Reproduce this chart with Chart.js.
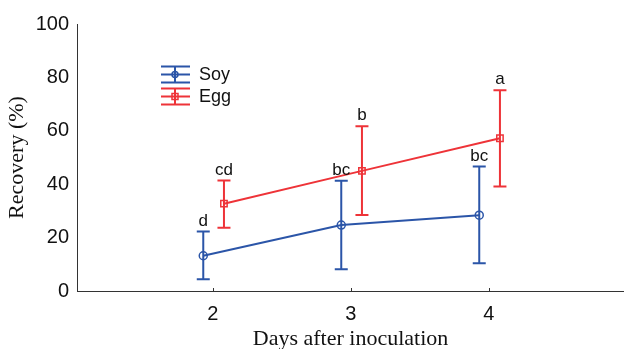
<!DOCTYPE html>
<html>
<head>
<meta charset="utf-8">
<script src="https://cdn.jsdelivr.net/npm/chart.js@4"></script>
<style>
  html, body { margin: 0; padding: 0; background: #fff; overflow: hidden; }
  #wrap { width: 630px; height: 356px; }
</style>
</head>
<body>
<div id="wrap"><canvas id="chart"></canvas></div>
<script>
// Data
const days = [2, 3, 4];
const dayTicks = [2, 3, 4];
const yTicks = [0, 20, 40, 60, 80, 100];

const soyMean = [13.2, 24.7, 28.4];
const soyLow = [4.4, 8.1, 10.4];
const soyHigh = [22.3, 41.3, 46.6];
const soyLetters = ['d', 'bc', 'bc'];

const eggMean = [32.7, 45.0, 57.2];
const eggLow = [23.7, 28.5, 39.1];
const eggHigh = [41.4, 61.7, 75.2];
const eggLetters = ['cd', 'b', 'a'];

const BLUE = '#2b55a8';
const RED = '#ee3338';
const SANS = 'Arial, "Liberation Sans", sans-serif';
const SERIF = '"Times New Roman", "Liberation Serif", serif';

// small horizontal dodge so the two series don't overlap
const soyDodge = -0.07;
const eggDodge = 0.08;

function points(mean, dodge) {
    return days.map((d, i) => ({ x: d + dodge, y: mean[i] }));
}

// error bars + significance letters
const errorBarPlugin = {
    id: 'errorBars',
    beforeDatasetsDraw(chart) {
        const ctx = chart.ctx;
        const yScale = chart.scales.y;
        chart.data.datasets.forEach((ds, di) => {
            const meta = chart.getDatasetMeta(di);
            ctx.save();
            ctx.strokeStyle = ds.borderColor;
            ctx.lineWidth = 2;
            meta.data.forEach((pt, i) => {
                const yLo = yScale.getPixelForValue(ds.low[i]);
                const yHi = yScale.getPixelForValue(ds.high[i]);
                ctx.beginPath();
                ctx.moveTo(pt.x, yLo); ctx.lineTo(pt.x, yHi);
                ctx.moveTo(pt.x - 6.5, yLo); ctx.lineTo(pt.x + 6.5, yLo);
                ctx.moveTo(pt.x - 6.5, yHi); ctx.lineTo(pt.x + 6.5, yHi);
                ctx.stroke();
            });
            ctx.restore();
        });
    },
    afterDatasetsDraw(chart) {
        const ctx = chart.ctx;
        const yScale = chart.scales.y;
        ctx.save();
        ctx.fillStyle = '#111';
        ctx.font = '17px ' + SANS;
        ctx.textAlign = 'center';
        ctx.textBaseline = 'bottom';
        chart.data.datasets.forEach((ds, di) => {
            const meta = chart.getDatasetMeta(di);
            meta.data.forEach((pt, i) => {
                ctx.fillText(ds.letters[i], pt.x, yScale.getPixelForValue(ds.high[i]) - 2);
            });
        });

        // small inward tick marks on the x axis
        const xScale = chart.scales.x;
        ctx.strokeStyle = '#333';
        ctx.lineWidth = 1;
        dayTicks.forEach(v => {
            const px = Math.round(xScale.getPixelForValue(v)) + 0.5;
            ctx.beginPath();
            ctx.moveTo(px, chart.chartArea.bottom);
            ctx.lineTo(px, chart.chartArea.bottom - 3);
            ctx.stroke();
        });

        // legend inside the plot
        const items = [
            { label: 'Soy', color: BLUE, y: 74.5, marker: 'circle' },
            { label: 'Egg', color: RED, y: 96.5, marker: 'rect' }
        ];
        items.forEach(it => {
            ctx.strokeStyle = it.color;
            ctx.lineWidth = 2;
            ctx.beginPath();
            ctx.moveTo(161, it.y); ctx.lineTo(190, it.y);
            ctx.moveTo(161, it.y - 8); ctx.lineTo(190, it.y - 8);
            ctx.moveTo(161, it.y + 8); ctx.lineTo(190, it.y + 8);
            ctx.moveTo(175, it.y - 8); ctx.lineTo(175, it.y + 8);
            ctx.stroke();
            ctx.lineWidth = 1.5;
            ctx.beginPath();
            if (it.marker === 'circle') {
                ctx.arc(175, it.y, 3, 0, Math.PI * 2);
            } else {
                ctx.rect(172, it.y - 3, 6, 6);
            }
            ctx.stroke();
            ctx.fillStyle = '#111';
            ctx.font = '18px ' + SANS;
            ctx.textAlign = 'left';
            ctx.textBaseline = 'middle';
            ctx.fillText(it.label, 199, it.y + 1);
        });
        ctx.restore();
    }
};

new Chart(document.getElementById('chart'), {
    type: 'scatter',
    data: {
        datasets: [
            {
                label: 'Soy',
                data: points(soyMean, soyDodge),
                low: soyLow, high: soyHigh, letters: soyLetters,
                showLine: true,
                borderColor: BLUE,
                borderWidth: 2,
                backgroundColor: 'rgba(0,0,0,0)',
                pointStyle: 'circle',
                pointRadius: 4,
                pointBorderWidth: 1.5,
                pointBorderColor: BLUE
            },
            {
                label: 'Egg',
                data: points(eggMean, eggDodge),
                low: eggLow, high: eggHigh, letters: eggLetters,
                showLine: true,
                borderColor: RED,
                borderWidth: 2,
                backgroundColor: 'rgba(0,0,0,0)',
                pointStyle: 'rect',
                pointRadius: 4.5,
                pointBorderWidth: 1.5,
                pointBorderColor: RED
            }
        ]
    },
    options: {
        responsive: true,
        maintainAspectRatio: false,
        animation: false,
        layout: { padding: { top: 24, right: 0, left: 0, bottom: 0 } },
        plugins: {
            legend: { display: false },
            tooltip: { enabled: false }
        },
        scales: {
            x: {
                type: 'linear',
                min: 1.015,
                max: 4.979,
                afterBuildTicks: scale => { scale.ticks = dayTicks.map(v => ({ value: v })); },
                afterFit: scale => { scale.height = 65; },
                grid: { display: false, drawTicks: false },
                border: { display: true, color: '#333', width: 1 },
                ticks: { color: '#111', font: { size: 20, family: SANS }, padding: 11 },
                title: {
                    display: true,
                    text: 'Days after inoculation',
                    color: '#111',
                    font: { size: 22, family: SERIF },
                    padding: { top: 4, bottom: 4 }
                }
            },
            y: {
                min: 0,
                max: 100,
                afterBuildTicks: scale => { scale.ticks = yTicks.map(v => ({ value: v })); },
                afterFit: scale => { scale.width = 77; },
                grid: { display: false, drawTicks: false },
                border: { display: true, color: '#333', width: 1 },
                ticks: { color: '#111', font: { size: 20, family: SANS }, padding: 8 },
                title: {
                    display: true,
                    text: 'Recovery (%)',
                    color: '#111',
                    font: { size: 22, family: SERIF },
                    padding: { top: 4, bottom: 4 }
                }
            }
        }
    },
    plugins: [errorBarPlugin]
});
</script>
</body>
</html>
